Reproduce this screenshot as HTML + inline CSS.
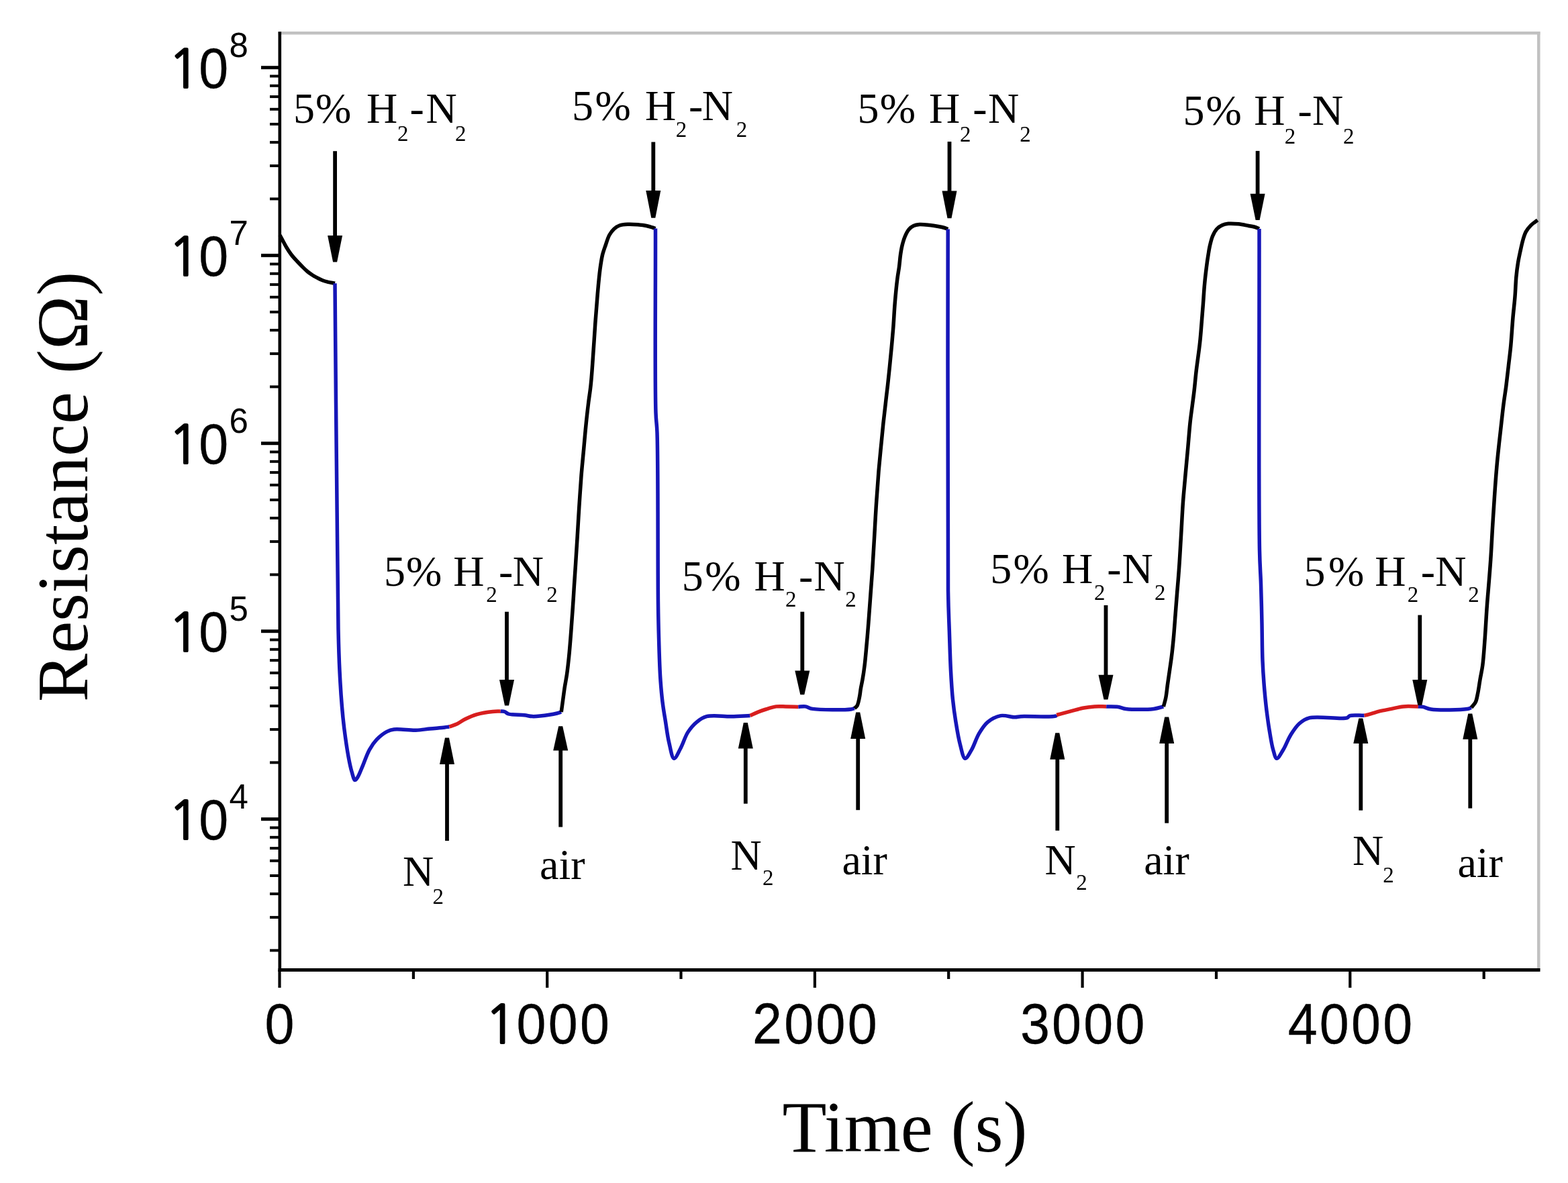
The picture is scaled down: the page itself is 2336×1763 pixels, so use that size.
<!DOCTYPE html>
<html><head><meta charset="utf-8"><title>Resistance vs Time</title>
<style>
html,body{margin:0;padding:0;background:#fff;}
svg{display:block;}
</style></head>
<body>
<svg width="2336" height="1763" viewBox="0 0 2336 1763">
<rect width="2336" height="1763" fill="#fff"/>
<line x1="414.5" y1="49.3" x2="2294.5" y2="49.3" stroke="#c1c1c1" stroke-width="4.4"/>
<line x1="2292.3" y1="47.3" x2="2292.3" y2="1445.4" stroke="#c1c1c1" stroke-width="4.5"/>
<path d="M417.0,350.5 C420.2,356.5 423.6,363.3 426.7,368.5 C429.2,372.7 431.4,376.0 434.0,379.5 C436.6,382.9 439.5,386.0 442.3,389.0 C444.9,391.8 447.4,394.4 450.0,397.0 C452.6,399.6 455.2,402.3 457.9,404.5 C460.4,406.6 462.9,408.3 465.5,410.0 C468.1,411.7 470.9,413.1 473.5,414.5 C476.0,415.8 478.4,417.0 481.0,418.0 C483.6,419.0 486.2,419.6 489.0,420.3 C492.1,421.1 495.7,421.6 499.0,422.3" fill="none" stroke="#000" stroke-width="5.5" stroke-linejoin="round" stroke-linecap="butt"/>
<path d="M499.0,422.3 C499.5,481.5 499.9,539.0 500.5,600.0 C501.1,664.7 501.9,739.5 502.5,800.0 C503.0,850.3 503.2,901.1 504.0,938.0 C504.5,962.7 505.0,980.2 506.0,1000.0 C506.9,1018.3 508.1,1037.2 509.4,1052.6 C510.4,1064.7 511.3,1073.5 512.7,1085.0 C514.4,1098.3 516.9,1116.1 519.1,1128.0 C520.7,1136.6 522.1,1143.7 524.0,1150.0 C525.5,1154.8 526.9,1162.2 528.8,1162.6 C530.1,1162.8 531.6,1160.1 533.0,1158.0 C535.2,1154.6 537.2,1148.8 539.6,1143.2 C542.8,1135.8 546.3,1124.6 550.4,1117.3 C553.7,1111.4 556.9,1106.7 561.2,1102.2 C565.5,1097.7 571.5,1092.9 576.3,1090.4 C580.0,1088.5 582.4,1087.6 587.0,1087.0 C594.8,1085.9 609.7,1088.5 619.4,1088.2 C627.3,1087.9 633.8,1086.7 641.0,1086.0 C648.2,1085.3 657.4,1084.6 662.6,1084.0 C665.5,1083.7 667.1,1083.3 669.4,1083.0" fill="none" stroke="#1616b8" stroke-width="5.5" stroke-linejoin="round" stroke-linecap="butt"/>
<path d="M669.4,1083.0 C673.3,1081.6 677.3,1080.5 681.1,1078.7 C685.1,1076.8 688.5,1073.9 692.9,1071.7 C698.1,1069.1 704.1,1066.4 710.5,1064.6 C717.7,1062.6 727.5,1061.2 734.0,1060.5 C738.6,1060.0 741.9,1060.2 745.8,1060.0" fill="none" stroke="#d81e1e" stroke-width="5.5" stroke-linejoin="round" stroke-linecap="butt"/>
<path d="M745.8,1060.0 C747.8,1060.2 749.8,1059.9 751.7,1060.5 C753.7,1061.2 754.8,1063.1 757.5,1064.0 C762.6,1065.6 774.5,1065.1 781.0,1065.8 C785.6,1066.3 788.9,1067.4 792.8,1067.6 C796.7,1067.8 799.9,1067.5 804.5,1067.0 C811.4,1066.3 824.4,1064.3 830.0,1063.0 C832.8,1062.3 834.1,1061.7 836.2,1061.0" fill="none" stroke="#1616b8" stroke-width="5.5" stroke-linejoin="round" stroke-linecap="butt"/>
<path d="M836.2,1061.0 C836.9,1056.2 837.5,1051.8 838.2,1046.5 C839.1,1040.2 840.0,1032.8 841.0,1025.9 C842.0,1019.0 843.4,1012.6 844.5,1005.2 C845.7,996.7 846.7,987.4 847.7,977.7 C848.8,966.9 849.7,954.8 850.6,943.3 C851.4,931.8 852.3,920.3 853.1,908.8 C853.9,897.3 854.6,885.9 855.3,874.4 C856.1,862.9 856.8,851.7 857.6,840.0 C858.3,827.7 859.1,815.5 860.0,802.3 C860.9,787.6 861.8,771.2 862.8,755.6 C863.8,740.1 864.9,723.8 866.0,709.0 C867.1,695.4 868.4,683.0 869.6,670.0 C870.8,657.0 871.9,643.3 873.2,631.1 C874.3,620.1 875.5,609.9 876.7,600.0 C877.8,591.0 879.1,583.9 880.1,574.2 C881.5,561.7 882.5,546.0 883.5,531.0 C884.7,514.9 885.8,496.8 886.9,480.7 C888.0,465.8 889.1,451.3 890.3,437.6 C891.4,425.1 892.5,412.1 893.9,401.6 C895.0,393.5 896.0,386.4 897.5,380.0 C898.8,374.8 900.3,370.8 902.0,366.0 C903.8,360.8 905.5,354.4 908.0,350.0 C910.0,346.4 912.4,343.4 915.0,341.0 C917.4,338.8 919.9,337.1 923.0,336.0 C926.5,334.7 930.8,334.5 935.0,334.3 C939.7,334.0 945.2,334.4 950.0,334.8 C954.5,335.2 959.1,335.7 963.0,336.5 C966.3,337.2 969.5,338.2 972.0,339.0 C973.8,339.5 975.0,340.0 976.5,340.5" fill="none" stroke="#000" stroke-width="5.5" stroke-linejoin="round" stroke-linecap="butt"/>
<path d="M976.5,340.5 C976.7,432.0 975.4,569.5 977.0,615.0 C977.5,630.0 978.5,630.1 979.0,645.0 C980.6,688.4 979.8,847.8 980.5,900.0 C980.8,923.1 981.0,932.6 981.5,950.0 C982.0,968.9 982.6,992.0 983.7,1009.4 C984.6,1023.1 985.6,1034.7 987.0,1046.1 C988.2,1056.1 989.7,1064.5 991.3,1074.2 C993.0,1084.6 994.3,1096.6 996.7,1106.5 C998.8,1115.1 1001.0,1129.9 1004.2,1130.3 C1006.9,1130.7 1010.8,1120.9 1013.9,1115.2 C1017.7,1108.3 1020.4,1098.2 1024.7,1091.4 C1028.5,1085.5 1032.8,1080.3 1037.7,1076.3 C1042.3,1072.5 1046.4,1069.4 1052.8,1067.7 C1062.1,1065.2 1078.0,1067.9 1089.4,1067.7 C1099.4,1067.5 1108.2,1066.9 1117.6,1066.5" fill="none" stroke="#1616b8" stroke-width="5.5" stroke-linejoin="round" stroke-linecap="butt"/>
<path d="M1117.6,1066.5 C1121.5,1064.7 1125.4,1062.7 1129.4,1061.1 C1133.3,1059.5 1136.9,1058.3 1141.1,1057.0 C1145.8,1055.5 1151.4,1053.6 1156.4,1052.9 C1161.2,1052.3 1165.5,1052.8 1170.5,1052.9 C1176.3,1053.0 1183.0,1053.2 1189.3,1053.4" fill="none" stroke="#d81e1e" stroke-width="5.5" stroke-linejoin="round" stroke-linecap="butt"/>
<path d="M1189.3,1053.4 C1192.8,1053.2 1196.4,1052.4 1199.9,1052.9 C1203.5,1053.4 1205.5,1055.6 1210.5,1056.4 C1221.9,1058.3 1259.3,1058.2 1268.0,1057.0 C1270.6,1056.6 1271.3,1056.0 1273.0,1055.5" fill="none" stroke="#1616b8" stroke-width="5.5" stroke-linejoin="round" stroke-linecap="butt"/>
<path d="M1273.0,1055.5 C1274.3,1054.3 1275.7,1053.7 1276.8,1052.0 C1278.5,1049.3 1279.4,1043.9 1280.3,1039.7 C1281.3,1035.3 1281.6,1030.5 1282.4,1025.9 C1283.2,1021.3 1284.2,1017.2 1285.1,1012.1 C1286.2,1005.9 1287.2,998.9 1288.1,991.5 C1289.1,983.0 1290.0,973.1 1290.8,963.9 C1291.7,954.7 1292.5,945.6 1293.2,936.4 C1294.0,927.2 1294.6,918.0 1295.3,908.8 C1296.0,899.6 1296.6,890.8 1297.3,881.3 C1298.1,871.0 1298.9,860.8 1299.7,849.0 C1300.6,834.9 1301.5,818.5 1302.5,802.3 C1303.5,784.9 1304.5,765.3 1305.7,747.9 C1306.8,731.7 1307.9,715.7 1309.1,701.2 C1310.2,688.5 1311.4,677.2 1312.5,665.4 C1313.7,653.8 1314.8,642.1 1315.9,631.1 C1317.0,620.9 1318.1,611.2 1319.3,601.5 C1320.3,592.2 1321.4,583.4 1322.5,574.2 C1323.5,564.8 1324.5,555.1 1325.5,545.5 C1326.5,535.9 1327.4,526.3 1328.3,516.7 C1329.2,507.1 1330.0,498.0 1330.8,487.9 C1331.7,476.6 1332.2,463.9 1333.2,451.9 C1334.2,439.9 1335.5,426.0 1336.8,416.0 C1337.7,408.7 1338.8,403.4 1339.6,397.3 C1340.4,391.4 1340.7,385.4 1341.5,380.0 C1342.2,375.1 1342.9,370.5 1344.0,366.0 C1345.1,361.6 1346.3,357.1 1348.0,353.0 C1349.6,349.1 1351.6,344.9 1354.0,342.0 C1356.0,339.6 1358.4,337.7 1361.0,336.5 C1363.7,335.2 1366.6,334.8 1370.0,334.5 C1374.3,334.2 1380.2,335.0 1385.0,335.5 C1389.5,336.0 1394.1,336.8 1398.0,337.5 C1401.3,338.1 1404.4,338.7 1407.0,339.5 C1409.0,340.1 1410.5,340.8 1412.2,341.5" fill="none" stroke="#000" stroke-width="5.5" stroke-linejoin="round" stroke-linecap="butt"/>
<path d="M1412.2,341.5 C1412.3,521.0 1411.1,790.2 1412.5,880.0 C1413.0,910.0 1413.6,920.0 1414.3,940.0 C1415.0,960.0 1415.5,981.8 1416.5,1000.0 C1417.3,1015.2 1418.1,1028.8 1419.4,1041.8 C1420.6,1053.3 1421.9,1063.3 1423.7,1074.2 C1425.5,1085.5 1427.5,1098.6 1430.2,1108.7 C1432.4,1116.8 1434.6,1129.8 1437.8,1130.3 C1440.5,1130.7 1444.4,1122.5 1447.5,1117.3 C1451.4,1110.7 1454.1,1100.7 1458.3,1093.6 C1462.1,1087.2 1465.8,1080.8 1471.2,1076.3 C1476.6,1071.8 1483.8,1067.9 1490.6,1066.6 C1497.4,1065.3 1506.6,1068.9 1512.2,1068.8 C1515.7,1068.8 1516.7,1068.0 1520.8,1067.7 C1530.8,1067.0 1568.4,1069.2 1572.9,1067.0 C1573.8,1066.6 1573.7,1066.0 1574.1,1065.5" fill="none" stroke="#1616b8" stroke-width="5.5" stroke-linejoin="round" stroke-linecap="butt"/>
<path d="M1574.1,1065.5 C1581.2,1063.6 1588.6,1061.7 1595.3,1059.9 C1601.4,1058.3 1607.0,1056.4 1612.9,1055.2 C1618.7,1054.0 1624.6,1053.3 1630.5,1052.9 C1636.4,1052.5 1642.3,1052.9 1648.2,1052.9" fill="none" stroke="#d81e1e" stroke-width="5.5" stroke-linejoin="round" stroke-linecap="butt"/>
<path d="M1648.2,1052.9 C1654.1,1053.1 1660.6,1052.7 1665.8,1053.4 C1670.1,1054.0 1672.4,1055.8 1677.5,1056.4 C1687.0,1057.6 1708.5,1057.6 1718.7,1056.4 C1724.9,1055.7 1728.5,1054.1 1733.4,1053.0" fill="none" stroke="#1616b8" stroke-width="5.5" stroke-linejoin="round" stroke-linecap="butt"/>
<path d="M1733.4,1053.0 C1734.5,1048.6 1735.8,1044.7 1736.8,1039.7 C1738.0,1033.6 1738.6,1025.9 1739.6,1019.0 C1740.6,1012.1 1741.6,1005.2 1742.6,998.3 C1743.6,991.4 1744.6,985.1 1745.5,977.7 C1746.6,969.2 1747.5,959.9 1748.4,950.2 C1749.4,939.4 1750.2,927.2 1751.1,915.7 C1752.0,904.2 1752.9,892.6 1753.8,881.3 C1754.7,870.4 1755.6,860.8 1756.4,849.0 C1757.5,834.9 1758.3,818.5 1759.3,802.3 C1760.4,784.9 1761.3,764.5 1762.5,747.9 C1763.5,733.8 1764.8,722.0 1765.9,709.0 C1767.1,696.0 1768.3,683.0 1769.5,670.0 C1770.7,657.0 1771.7,642.8 1772.9,631.1 C1773.9,621.5 1775.1,613.5 1776.2,605.0 C1777.2,596.9 1778.3,589.7 1779.2,581.4 C1780.3,572.3 1781.1,561.6 1782.2,552.7 C1783.1,545.0 1784.1,538.3 1785.0,531.1 C1786.0,523.9 1786.9,517.2 1787.7,509.5 C1788.7,500.6 1789.4,490.3 1790.2,480.7 C1791.0,471.1 1791.8,461.5 1792.5,451.9 C1793.2,442.3 1793.7,432.5 1794.6,423.2 C1795.4,414.3 1796.5,405.1 1797.5,397.3 C1798.3,390.9 1799.1,385.5 1800.0,380.0 C1800.8,375.1 1801.4,370.6 1802.5,366.0 C1803.6,361.3 1804.7,356.3 1806.5,352.0 C1808.2,348.0 1810.4,343.8 1813.0,341.0 C1815.3,338.5 1818.1,336.8 1821.0,335.5 C1823.8,334.2 1826.6,333.7 1830.0,333.3 C1834.3,332.9 1840.0,333.3 1845.0,333.8 C1850.0,334.3 1855.5,335.6 1860.0,336.5 C1863.7,337.2 1867.1,337.6 1870.0,338.5 C1872.3,339.2 1874.0,340.2 1876.0,341.0" fill="none" stroke="#000" stroke-width="5.5" stroke-linejoin="round" stroke-linecap="butt"/>
<path d="M1876.0,341.0 C1876.2,500.7 1874.9,742.0 1876.5,820.0 C1877.0,845.2 1877.9,852.6 1878.5,870.0 C1879.1,889.1 1879.6,910.4 1880.0,930.0 C1880.4,948.7 1880.3,967.9 1881.0,985.0 C1881.6,999.9 1882.6,1013.7 1883.7,1026.7 C1884.7,1038.2 1885.7,1048.5 1887.0,1059.1 C1888.3,1069.4 1889.6,1079.4 1891.3,1089.3 C1892.9,1098.8 1894.5,1109.8 1896.7,1117.3 C1898.3,1122.6 1899.7,1130.0 1902.1,1130.3 C1904.7,1130.6 1908.7,1122.3 1911.8,1117.3 C1915.6,1111.2 1918.5,1102.3 1922.6,1095.7 C1926.5,1089.5 1930.5,1082.9 1935.5,1078.5 C1940.0,1074.6 1943.6,1071.7 1950.6,1069.9 C1963.1,1066.6 1998.7,1072.6 2006.7,1069.9 C2009.2,1069.1 2008.8,1067.3 2011.0,1066.6 C2015.3,1065.1 2025.4,1066.4 2032.6,1066.3" fill="none" stroke="#1616b8" stroke-width="5.5" stroke-linejoin="round" stroke-linecap="butt"/>
<path d="M2032.6,1066.3 C2034.3,1065.9 2035.4,1065.8 2037.6,1065.2 C2041.7,1064.1 2049.4,1061.4 2055.3,1059.9 C2061.1,1058.4 2067.0,1057.6 2072.9,1056.4 C2078.8,1055.2 2084.2,1053.5 2090.5,1052.9 C2097.5,1052.2 2105.4,1052.9 2112.9,1052.9" fill="none" stroke="#d81e1e" stroke-width="5.5" stroke-linejoin="round" stroke-linecap="butt"/>
<path d="M2112.9,1052.9 C2115.2,1053.1 2117.3,1052.9 2119.9,1053.4 C2123.4,1054.0 2126.3,1056.2 2131.7,1057.0 C2143.1,1058.7 2177.0,1058.0 2186.0,1056.5 C2189.1,1056.0 2190.0,1055.2 2192.0,1054.5" fill="none" stroke="#1616b8" stroke-width="5.5" stroke-linejoin="round" stroke-linecap="butt"/>
<path d="M2192.0,1054.5 C2194.1,1051.8 2196.6,1049.7 2198.2,1046.5 C2200.1,1042.7 2200.6,1037.9 2201.7,1032.8 C2203.0,1026.6 2203.9,1019.0 2205.1,1012.1 C2206.3,1005.2 2207.7,999.6 2208.8,991.5 C2210.3,980.1 2211.2,964.5 2212.3,950.2 C2213.4,934.8 2214.3,916.7 2215.4,902.0 C2216.3,889.5 2217.3,879.0 2218.2,867.5 C2219.1,856.1 2220.0,845.7 2220.8,833.5 C2221.8,819.2 2222.6,802.4 2223.5,786.8 C2224.5,771.2 2225.4,755.3 2226.5,740.0 C2227.5,725.2 2228.6,710.1 2229.8,696.5 C2230.8,684.4 2232.0,673.4 2233.2,662.3 C2234.3,651.7 2235.6,641.5 2236.7,631.1 C2237.9,620.7 2239.0,609.7 2240.3,600.0 C2241.4,591.4 2242.7,584.2 2243.8,575.7 C2245.0,566.2 2246.1,555.7 2247.3,545.7 C2248.4,535.7 2249.7,526.6 2250.7,515.8 C2251.9,503.0 2252.8,486.9 2253.9,473.9 C2254.9,462.5 2256.2,452.4 2257.0,442.0 C2257.8,432.2 2258.0,422.1 2258.8,413.2 C2259.5,405.5 2260.4,398.3 2261.5,391.7 C2262.4,385.9 2263.5,381.1 2264.7,375.5 C2266.0,369.6 2267.4,362.6 2269.0,357.2 C2270.3,352.8 2271.3,348.9 2273.3,345.3 C2275.3,341.7 2278.0,338.5 2280.9,335.6 C2283.8,332.7 2287.4,330.5 2290.6,328.0" fill="none" stroke="#000" stroke-width="5.5" stroke-linejoin="round" stroke-linecap="butt"/>
<line x1="416.8" y1="47.3" x2="416.8" y2="1447.9" stroke="#000" stroke-width="4.6"/>
<line x1="414.5" y1="1445.4" x2="2294.5" y2="1445.4" stroke="#000" stroke-width="5"/>
<line x1="389" y1="100.7" x2="416.8" y2="100.7" stroke="#000" stroke-width="5"/>
<line x1="389" y1="380.7" x2="416.8" y2="380.7" stroke="#000" stroke-width="5"/>
<line x1="389" y1="660.7" x2="416.8" y2="660.7" stroke="#000" stroke-width="5"/>
<line x1="389" y1="940.7" x2="416.8" y2="940.7" stroke="#000" stroke-width="5"/>
<line x1="389" y1="1220.7" x2="416.8" y2="1220.7" stroke="#000" stroke-width="5"/>
<line x1="402" y1="1416.4" x2="416.8" y2="1416.4" stroke="#000" stroke-width="4"/>
<line x1="402" y1="1367.1" x2="416.8" y2="1367.1" stroke="#000" stroke-width="4"/>
<line x1="402" y1="1332.1" x2="416.8" y2="1332.1" stroke="#000" stroke-width="4"/>
<line x1="402" y1="1305.0" x2="416.8" y2="1305.0" stroke="#000" stroke-width="4"/>
<line x1="402" y1="1282.8" x2="416.8" y2="1282.8" stroke="#000" stroke-width="4"/>
<line x1="402" y1="1264.1" x2="416.8" y2="1264.1" stroke="#000" stroke-width="4"/>
<line x1="402" y1="1247.8" x2="416.8" y2="1247.8" stroke="#000" stroke-width="4"/>
<line x1="402" y1="1233.5" x2="416.8" y2="1233.5" stroke="#000" stroke-width="4"/>
<line x1="402" y1="1136.4" x2="416.8" y2="1136.4" stroke="#000" stroke-width="4"/>
<line x1="402" y1="1087.1" x2="416.8" y2="1087.1" stroke="#000" stroke-width="4"/>
<line x1="402" y1="1052.1" x2="416.8" y2="1052.1" stroke="#000" stroke-width="4"/>
<line x1="402" y1="1025.0" x2="416.8" y2="1025.0" stroke="#000" stroke-width="4"/>
<line x1="402" y1="1002.8" x2="416.8" y2="1002.8" stroke="#000" stroke-width="4"/>
<line x1="402" y1="984.1" x2="416.8" y2="984.1" stroke="#000" stroke-width="4"/>
<line x1="402" y1="967.8" x2="416.8" y2="967.8" stroke="#000" stroke-width="4"/>
<line x1="402" y1="953.5" x2="416.8" y2="953.5" stroke="#000" stroke-width="4"/>
<line x1="402" y1="856.4" x2="416.8" y2="856.4" stroke="#000" stroke-width="4"/>
<line x1="402" y1="807.1" x2="416.8" y2="807.1" stroke="#000" stroke-width="4"/>
<line x1="402" y1="772.1" x2="416.8" y2="772.1" stroke="#000" stroke-width="4"/>
<line x1="402" y1="745.0" x2="416.8" y2="745.0" stroke="#000" stroke-width="4"/>
<line x1="402" y1="722.8" x2="416.8" y2="722.8" stroke="#000" stroke-width="4"/>
<line x1="402" y1="704.1" x2="416.8" y2="704.1" stroke="#000" stroke-width="4"/>
<line x1="402" y1="687.8" x2="416.8" y2="687.8" stroke="#000" stroke-width="4"/>
<line x1="402" y1="673.5" x2="416.8" y2="673.5" stroke="#000" stroke-width="4"/>
<line x1="402" y1="576.4" x2="416.8" y2="576.4" stroke="#000" stroke-width="4"/>
<line x1="402" y1="527.1" x2="416.8" y2="527.1" stroke="#000" stroke-width="4"/>
<line x1="402" y1="492.1" x2="416.8" y2="492.1" stroke="#000" stroke-width="4"/>
<line x1="402" y1="465.0" x2="416.8" y2="465.0" stroke="#000" stroke-width="4"/>
<line x1="402" y1="442.8" x2="416.8" y2="442.8" stroke="#000" stroke-width="4"/>
<line x1="402" y1="424.1" x2="416.8" y2="424.1" stroke="#000" stroke-width="4"/>
<line x1="402" y1="407.8" x2="416.8" y2="407.8" stroke="#000" stroke-width="4"/>
<line x1="402" y1="393.5" x2="416.8" y2="393.5" stroke="#000" stroke-width="4"/>
<line x1="402" y1="296.4" x2="416.8" y2="296.4" stroke="#000" stroke-width="4"/>
<line x1="402" y1="247.1" x2="416.8" y2="247.1" stroke="#000" stroke-width="4"/>
<line x1="402" y1="212.1" x2="416.8" y2="212.1" stroke="#000" stroke-width="4"/>
<line x1="402" y1="185.0" x2="416.8" y2="185.0" stroke="#000" stroke-width="4"/>
<line x1="402" y1="162.8" x2="416.8" y2="162.8" stroke="#000" stroke-width="4"/>
<line x1="402" y1="144.1" x2="416.8" y2="144.1" stroke="#000" stroke-width="4"/>
<line x1="402" y1="127.8" x2="416.8" y2="127.8" stroke="#000" stroke-width="4"/>
<line x1="402" y1="113.5" x2="416.8" y2="113.5" stroke="#000" stroke-width="4"/>
<line x1="416.5" y1="1445.4" x2="416.5" y2="1472" stroke="#000" stroke-width="4.2"/>
<line x1="815.2" y1="1445.4" x2="815.2" y2="1472" stroke="#000" stroke-width="4.2"/>
<line x1="1213.9" y1="1445.4" x2="1213.9" y2="1472" stroke="#000" stroke-width="4.2"/>
<line x1="1612.6" y1="1445.4" x2="1612.6" y2="1472" stroke="#000" stroke-width="4.2"/>
<line x1="2011.3" y1="1445.4" x2="2011.3" y2="1472" stroke="#000" stroke-width="4.2"/>
<line x1="615.9" y1="1445.4" x2="615.9" y2="1459" stroke="#000" stroke-width="4.2"/>
<line x1="1014.5" y1="1445.4" x2="1014.5" y2="1459" stroke="#000" stroke-width="4.2"/>
<line x1="1413.2" y1="1445.4" x2="1413.2" y2="1459" stroke="#000" stroke-width="4.2"/>
<line x1="1812.0" y1="1445.4" x2="1812.0" y2="1459" stroke="#000" stroke-width="4.2"/>
<line x1="2210.7" y1="1445.4" x2="2210.7" y2="1459" stroke="#000" stroke-width="4.2"/>
<line x1="499.1" y1="225.2" x2="499.1" y2="353" stroke="#000" stroke-width="5.8"/>
<polygon points="488.1,351 510.1,351 502.1,390.6 496.1,390.6" fill="#000"/>
<line x1="973.3" y1="211.6" x2="973.3" y2="286" stroke="#000" stroke-width="5.8"/>
<polygon points="962.3,284 984.3,284 976.3,324.8 970.3,324.8" fill="#000"/>
<line x1="1414.5" y1="211.1" x2="1414.5" y2="286.5" stroke="#000" stroke-width="5.8"/>
<polygon points="1403.5,284.5 1425.5,284.5 1417.5,325.3 1411.5,325.3" fill="#000"/>
<line x1="1873.6" y1="224.9" x2="1873.6" y2="290.7" stroke="#000" stroke-width="5.8"/>
<polygon points="1862.6,288.7 1884.6,288.7 1876.6,328 1870.6,328" fill="#000"/>
<line x1="755.0" y1="911.7" x2="755.0" y2="1015" stroke="#000" stroke-width="5.8"/>
<polygon points="744.0,1013 766.0,1013 758.0,1051.5 752.0,1051.5" fill="#000"/>
<line x1="1195.3" y1="911.7" x2="1195.3" y2="1001.6" stroke="#000" stroke-width="5.8"/>
<polygon points="1184.3,999.6 1206.3,999.6 1198.3,1035.2 1192.3,1035.2" fill="#000"/>
<line x1="1647.5" y1="902" x2="1647.5" y2="1007.7" stroke="#000" stroke-width="5.8"/>
<polygon points="1636.5,1005.7 1658.5,1005.7 1650.5,1042.4 1644.5,1042.4" fill="#000"/>
<line x1="2115.3" y1="916.6" x2="2115.3" y2="1015" stroke="#000" stroke-width="5.8"/>
<polygon points="2104.3,1013 2126.3,1013 2118.3,1051 2112.3,1051" fill="#000"/>
<line x1="666.0" y1="1253" x2="666.0" y2="1137" stroke="#000" stroke-width="5.8"/>
<polygon points="655.0,1139 677.0,1139 669.0,1099.5 663.0,1099.5" fill="#000"/>
<line x1="1110.8" y1="1197.7" x2="1110.8" y2="1113.4" stroke="#000" stroke-width="5.8"/>
<polygon points="1099.8,1115.4 1121.8,1115.4 1113.8,1077 1107.8,1077" fill="#000"/>
<line x1="1575.3" y1="1237.8" x2="1575.3" y2="1129.8" stroke="#000" stroke-width="5.8"/>
<polygon points="1564.3,1131.8 1586.3,1131.8 1578.3,1092.3 1572.3,1092.3" fill="#000"/>
<line x1="2027.3" y1="1207.7" x2="2027.3" y2="1106" stroke="#000" stroke-width="5.8"/>
<polygon points="2016.3,1108 2038.3,1108 2030.3,1070.5 2024.3,1070.5" fill="#000"/>
<line x1="835.2" y1="1232.5" x2="835.2" y2="1116.5" stroke="#000" stroke-width="5.8"/>
<polygon points="824.2,1118.5 846.2,1118.5 838.2,1082.2 832.2,1082.2" fill="#000"/>
<line x1="1278.2" y1="1207.2" x2="1278.2" y2="1099.1" stroke="#000" stroke-width="5.8"/>
<polygon points="1267.2,1101.1 1289.2,1101.1 1281.2,1061.5 1275.2,1061.5" fill="#000"/>
<line x1="1738.2" y1="1226.7" x2="1738.2" y2="1106" stroke="#000" stroke-width="5.8"/>
<polygon points="1727.2,1108 1749.2,1108 1741.2,1068.5 1735.2,1068.5" fill="#000"/>
<line x1="2190.3" y1="1204.6" x2="2190.3" y2="1099.7" stroke="#000" stroke-width="5.8"/>
<polygon points="2179.3,1101.7 2201.3,1101.7 2193.3,1063.5 2187.3,1063.5" fill="#000"/>
<text x="250.3" y="131.1" font-family="NanumGothic, 'Liberation Sans', sans-serif" font-size="79.5" stroke="#000" stroke-width="2.2">1</text>
<text transform="scale(0.93 1)" y="131.1" font-family="'Liberation Sans', Arial, sans-serif" font-size="85" stroke="#000" stroke-width="0.3"><tspan x="318.6">0</tspan></text>
<text x="341.5" y="85.3" font-family="'Liberation Sans', Arial, sans-serif" font-size="51">8</text>
<text x="250.3" y="411.1" font-family="NanumGothic, 'Liberation Sans', sans-serif" font-size="79.5" stroke="#000" stroke-width="2.2">1</text>
<text transform="scale(0.93 1)" y="411.1" font-family="'Liberation Sans', Arial, sans-serif" font-size="85" stroke="#000" stroke-width="0.3"><tspan x="318.6">0</tspan></text>
<text x="341.5" y="365.3" font-family="'Liberation Sans', Arial, sans-serif" font-size="51">7</text>
<text x="250.3" y="691.1" font-family="NanumGothic, 'Liberation Sans', sans-serif" font-size="79.5" stroke="#000" stroke-width="2.2">1</text>
<text transform="scale(0.93 1)" y="691.1" font-family="'Liberation Sans', Arial, sans-serif" font-size="85" stroke="#000" stroke-width="0.3"><tspan x="318.6">0</tspan></text>
<text x="341.5" y="645.3" font-family="'Liberation Sans', Arial, sans-serif" font-size="51">6</text>
<text x="250.3" y="971.1" font-family="NanumGothic, 'Liberation Sans', sans-serif" font-size="79.5" stroke="#000" stroke-width="2.2">1</text>
<text transform="scale(0.93 1)" y="971.1" font-family="'Liberation Sans', Arial, sans-serif" font-size="85" stroke="#000" stroke-width="0.3"><tspan x="318.6">0</tspan></text>
<text x="341.5" y="925.3" font-family="'Liberation Sans', Arial, sans-serif" font-size="51">5</text>
<text x="250.3" y="1251.1" font-family="NanumGothic, 'Liberation Sans', sans-serif" font-size="79.5" stroke="#000" stroke-width="2.2">1</text>
<text transform="scale(0.93 1)" y="1251.1" font-family="'Liberation Sans', Arial, sans-serif" font-size="85" stroke="#000" stroke-width="0.3"><tspan x="318.6">0</tspan></text>
<text x="341.5" y="1205.3" font-family="'Liberation Sans', Arial, sans-serif" font-size="51">4</text>
<text transform="scale(0.93 1)" y="1555.0" font-family="'Liberation Sans', Arial, sans-serif" font-size="85" stroke="#000" stroke-width="0.3"><tspan x="424.2">0</tspan></text>
<text x="721.9" y="1555.0" font-family="NanumGothic, 'Liberation Sans', sans-serif" font-size="79.5" stroke="#000" stroke-width="2.2">1</text>
<text transform="scale(0.93 1)" y="1555.0" font-family="'Liberation Sans', Arial, sans-serif" font-size="85" stroke="#000" stroke-width="0.3"><tspan x="827.5">0</tspan><tspan x="878.3">0</tspan><tspan x="929.1">0</tspan></text>
<text transform="scale(0.93 1)" y="1555.0" font-family="'Liberation Sans', Arial, sans-serif" font-size="85" stroke="#000" stroke-width="0.3"><tspan x="1205.4">2</tspan><tspan x="1256.2">0</tspan><tspan x="1307.0">0</tspan><tspan x="1357.9">0</tspan></text>
<text transform="scale(0.93 1)" y="1555.0" font-family="'Liberation Sans', Arial, sans-serif" font-size="85" stroke="#000" stroke-width="0.3"><tspan x="1634.4">3</tspan><tspan x="1684.9">0</tspan><tspan x="1735.7">0</tspan><tspan x="1786.6">0</tspan></text>
<text transform="scale(0.93 1)" y="1555.0" font-family="'Liberation Sans', Arial, sans-serif" font-size="85" stroke="#000" stroke-width="0.3"><tspan x="2063.1">4</tspan><tspan x="2113.6">0</tspan><tspan x="2164.5">0</tspan><tspan x="2215.3">0</tspan></text>
<text x="1165.5" y="1715.8" font-family="'Liberation Serif', 'Times New Roman', serif" font-size="108">Time (s)</text>
<text transform="translate(129.5 1045.9) rotate(-90)" x="0" y="0" font-family="'Liberation Serif', 'Times New Roman', serif" font-size="108">Resistance (Ω)</text>
<text y="183.2" font-size="64" font-family="'Liberation Serif', 'Times New Roman', serif"><tspan x="437.1">5</tspan><tspan x="470.0">%</tspan><tspan x="546.0">H</tspan><tspan x="592.0" y="210.4" font-size="33">2</tspan><tspan x="610.6" y="183.2">-</tspan><tspan x="634.6">N</tspan><tspan x="678.0" y="210.4" font-size="33">2</tspan></text>
<text y="178.9" font-size="64" font-family="'Liberation Serif', 'Times New Roman', serif"><tspan x="852.0">5</tspan><tspan x="886.4">%</tspan><tspan x="960.9">H</tspan><tspan x="1006.8" y="203.5" font-size="33">2</tspan><tspan x="1026.1" y="178.9">-</tspan><tspan x="1045.7">N</tspan><tspan x="1096.7" y="203.5" font-size="33">2</tspan></text>
<text y="182.7" font-size="64" font-family="'Liberation Serif', 'Times New Roman', serif"><tspan x="1277.6">5</tspan><tspan x="1310.8">%</tspan><tspan x="1384.0">H</tspan><tspan x="1429.9" y="210.5" font-size="33">2</tspan><tspan x="1449.2" y="182.7">-</tspan><tspan x="1471.9">N</tspan><tspan x="1519.2" y="210.5" font-size="33">2</tspan></text>
<text y="185.8" font-size="64" font-family="'Liberation Serif', 'Times New Roman', serif"><tspan x="1762.6">5</tspan><tspan x="1796.4">%</tspan><tspan x="1868.3">H</tspan><tspan x="1913.7" y="214.3" font-size="33">2</tspan><tspan x="1933.5" y="185.8">-</tspan><tspan x="1955.0">N</tspan><tspan x="2001.0" y="214.3" font-size="33">2</tspan></text>
<text y="872.7" font-size="64" font-family="'Liberation Serif', 'Times New Roman', serif"><tspan x="572.0">5</tspan><tspan x="605.1">%</tspan><tspan x="675.2">H</tspan><tspan x="724.3" y="897.3" font-size="33">2</tspan><tspan x="742.9" y="872.7">-</tspan><tspan x="763.8">N</tspan><tspan x="814.2" y="897.3" font-size="33">2</tspan></text>
<text y="879.6" font-size="64" font-family="'Liberation Serif', 'Times New Roman', serif"><tspan x="1015.8">5</tspan><tspan x="1050.2">%</tspan><tspan x="1123.4">H</tspan><tspan x="1170.0" y="904.3" font-size="33">2</tspan><tspan x="1189.9" y="879.6">-</tspan><tspan x="1212.6">N</tspan><tspan x="1259.2" y="904.3" font-size="33">2</tspan></text>
<text y="868.9" font-size="64" font-family="'Liberation Serif', 'Times New Roman', serif"><tspan x="1475.2">5</tspan><tspan x="1509.6">%</tspan><tspan x="1582.1">H</tspan><tspan x="1630.0" y="893.5" font-size="33">2</tspan><tspan x="1649.2" y="868.9">-</tspan><tspan x="1671.4">N</tspan><tspan x="1719.9" y="893.5" font-size="33">2</tspan></text>
<text y="872.7" font-size="64" font-family="'Liberation Serif', 'Times New Roman', serif"><tspan x="1942.6">5</tspan><tspan x="1978.9">%</tspan><tspan x="2048.3">H</tspan><tspan x="2096.8" y="897.3" font-size="33">2</tspan><tspan x="2116.7" y="872.7">-</tspan><tspan x="2138.2">N</tspan><tspan x="2187.3" y="897.3" font-size="33">2</tspan></text>
<text y="1319.6" font-size="64" font-family="'Liberation Serif', 'Times New Roman', serif"><tspan x="599.9">N</tspan><tspan x="644.5" y="1346.8" font-size="33">2</tspan></text>
<text y="1296.0" font-size="64" font-family="'Liberation Serif', 'Times New Roman', serif"><tspan x="1088.6">N</tspan><tspan x="1136.1" y="1318.8" font-size="33">2</tspan></text>
<text y="1303.2" font-size="64" font-family="'Liberation Serif', 'Times New Roman', serif"><tspan x="1556.4">N</tspan><tspan x="1603.2" y="1326.0" font-size="33">2</tspan></text>
<text y="1289.4" font-size="64" font-family="'Liberation Serif', 'Times New Roman', serif"><tspan x="2015.0">N</tspan><tspan x="2060.3" y="1315.2" font-size="33">2</tspan></text>
<text x="804.1" y="1310.2" font-size="64" font-family="'Liberation Serif', 'Times New Roman', serif">air</text>
<text x="1254.4" y="1303.2" font-size="64" font-family="'Liberation Serif', 'Times New Roman', serif">air</text>
<text x="1704.2" y="1303.2" font-size="64" font-family="'Liberation Serif', 'Times New Roman', serif">air</text>
<text x="2171.4" y="1306.8" font-size="64" font-family="'Liberation Serif', 'Times New Roman', serif">air</text>
</svg>
</body></html>
